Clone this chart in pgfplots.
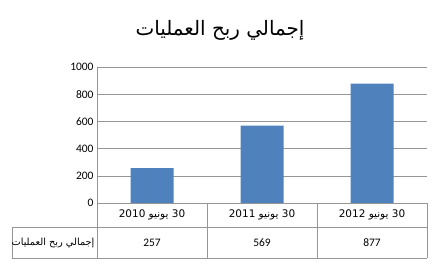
\documentclass[border=0pt]{standalone}
\usepackage{fontspec}
\setmainfont{Carlito}
\newfontfamily\arabicfont[Script=Arabic]{DejaVu Sans}
\usepackage{pgfplots}
\pgfplotsset{compat=1.18}
\TeXXeTstate=1
\definecolor{barblue}{RGB}{79,129,189}
\definecolor{gridgray}{RGB}{150,150,150}
\begin{document}
\begin{tikzpicture}[x=1bp,y=1bp]
\path[use as bounding box] (0,0) rectangle (435,265);
\node at (220,235) {\arabicfont\fontsize{20}{24}\selectfont\beginR إجمالي ربح العمليات\endR};
\begin{axis}[
  at={(97bp,62bp)}, anchor=south west,
  scale only axis, width=330bp, height=136bp,
  ybar, bar width=43bp,
  xmin=-0.5, xmax=2.5, ymin=0, ymax=1000,
  ytick={0,200,...,1000},
  xtick={0,1,2},
  xticklabels={},
  ymajorgrids, grid style={gridgray, line width=0.6pt},
  axis x line*=bottom, axis y line*=left,
  axis line style={gridgray, line width=0.6pt},
  y axis line style={-}, x axis line style={-},
  ytick style={gridgray, line width=0.6pt},
  xtick style={draw=none},
  major tick length=4bp,
  tick label style={font=\fontsize{11.5}{13}\selectfont},
  /pgf/number format/assume math mode=true,
  /pgf/number format/1000 sep={},
  clip=false,
]
\addplot[fill=barblue, draw=none] coordinates {(0,257) (1,569) (2,877)};
\end{axis}
% table grid
\begin{scope}[draw=gridgray, line width=0.6pt]
\draw (97,62) -- (427,62);
\draw (12,38) -- (427,38);
\draw (12,7) -- (427,7);
\draw (12,38) -- (12,7);
\foreach \xx in {97,207,317,427} \draw (\xx,62) -- (\xx,7);
\end{scope}
\foreach \xx/\yr in {152/2010,262/2011,372/2012}
  \node at (\xx,50) {\arabicfont\fontsize{10.5}{12}\selectfont\beginR 30 يونيو \beginL\yr\endL\endR};
\foreach \xx/\v in {152/257,262/569,372/877}
  \node at (\xx,22.5) {\fontsize{11.5}{13}\selectfont \v};
\node at (53,22.5) {\arabicfont\fontsize{9.8}{11}\selectfont\beginR إجمالي ربح العمليات\endR};
\end{tikzpicture}
\end{document}
